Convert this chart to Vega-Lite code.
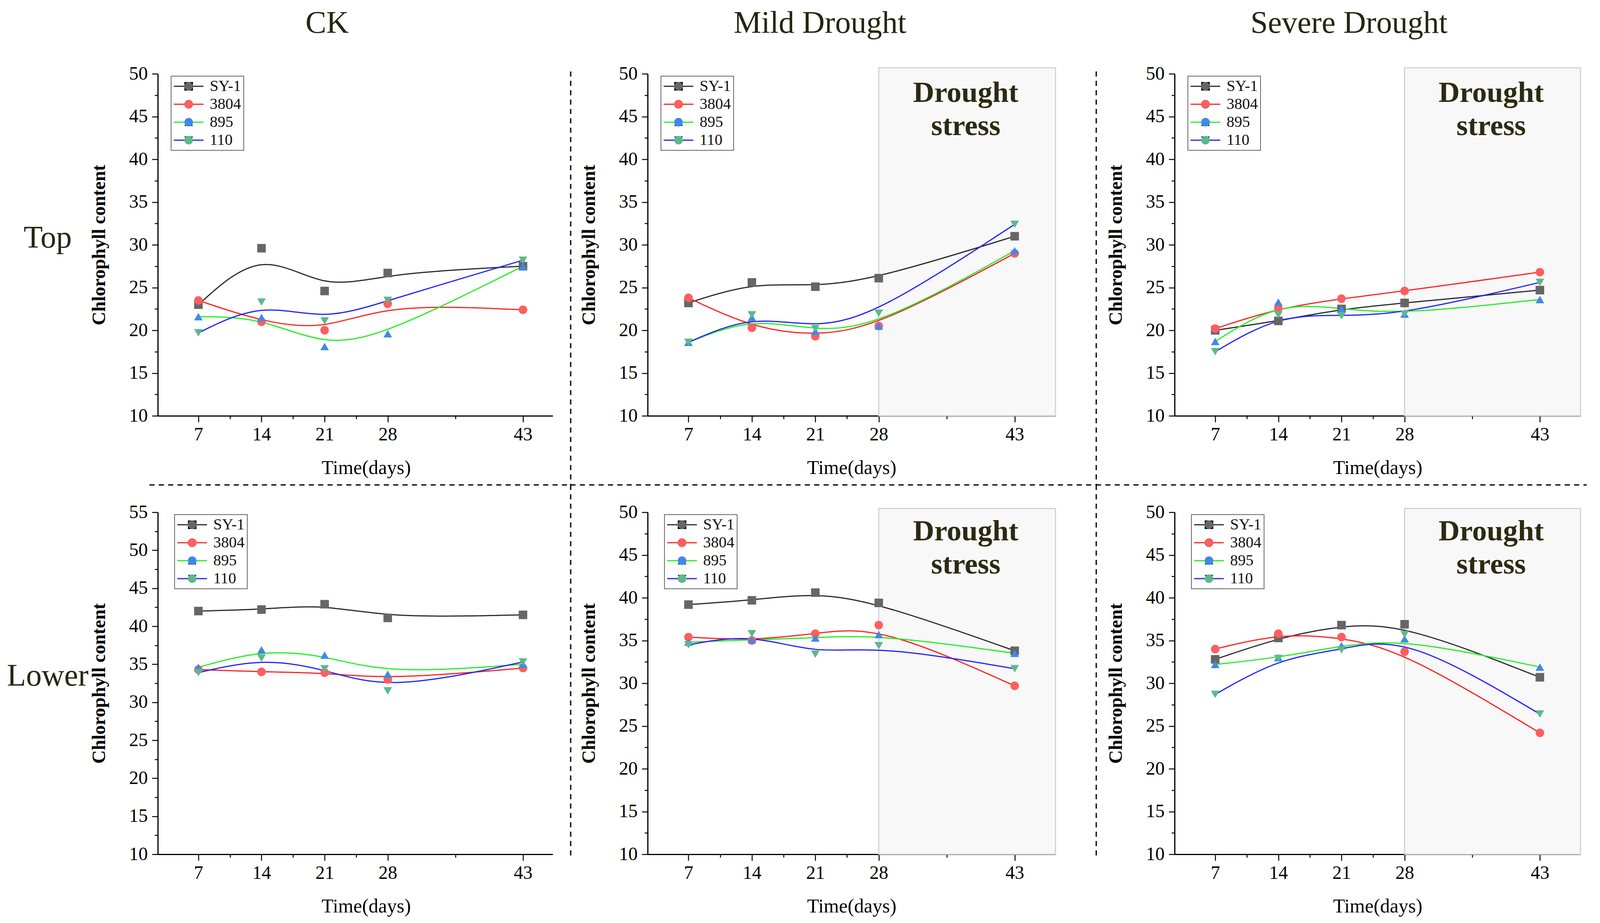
{
"$schema": "https://vega.github.io/schema/vega-lite/v6.json",
"background": "white",
"autosize": {"type": "pad"},
"padding": {"left": 17, "top": 20, "right": 5, "bottom": 5},
"datasets": {"chl": [
{"panel":"CK-Top","variety":"SY-1","day":7,"chl":23.0},{"panel":"CK-Top","variety":"SY-1","day":14,"chl":29.6},{"panel":"CK-Top","variety":"SY-1","day":21,"chl":24.6},{"panel":"CK-Top","variety":"SY-1","day":28,"chl":26.7},{"panel":"CK-Top","variety":"SY-1","day":43,"chl":27.5},
{"panel":"CK-Top","variety":"3804","day":7,"chl":23.5},{"panel":"CK-Top","variety":"3804","day":14,"chl":21.0},{"panel":"CK-Top","variety":"3804","day":21,"chl":20.0},{"panel":"CK-Top","variety":"3804","day":28,"chl":23.1},{"panel":"CK-Top","variety":"3804","day":43,"chl":22.4},
{"panel":"CK-Top","variety":"895","day":7,"chl":21.6},{"panel":"CK-Top","variety":"895","day":14,"chl":21.5},{"panel":"CK-Top","variety":"895","day":21,"chl":18.1},{"panel":"CK-Top","variety":"895","day":28,"chl":19.6},{"panel":"CK-Top","variety":"895","day":43,"chl":27.5},
{"panel":"CK-Top","variety":"110","day":7,"chl":19.7},{"panel":"CK-Top","variety":"110","day":14,"chl":23.3},{"panel":"CK-Top","variety":"110","day":21,"chl":21.1},{"panel":"CK-Top","variety":"110","day":28,"chl":23.5},{"panel":"CK-Top","variety":"110","day":43,"chl":28.2},
{"panel":"MD-Top","variety":"SY-1","day":7,"chl":23.2},{"panel":"MD-Top","variety":"SY-1","day":14,"chl":25.6},{"panel":"MD-Top","variety":"SY-1","day":21,"chl":25.1},{"panel":"MD-Top","variety":"SY-1","day":28,"chl":26.1},{"panel":"MD-Top","variety":"SY-1","day":43,"chl":31.0},
{"panel":"MD-Top","variety":"3804","day":7,"chl":23.8},{"panel":"MD-Top","variety":"3804","day":14,"chl":20.3},{"panel":"MD-Top","variety":"3804","day":21,"chl":19.3},{"panel":"MD-Top","variety":"3804","day":28,"chl":20.5},{"panel":"MD-Top","variety":"3804","day":43,"chl":29.0},
{"panel":"MD-Top","variety":"895","day":7,"chl":18.6},{"panel":"MD-Top","variety":"895","day":14,"chl":21.5},{"panel":"MD-Top","variety":"895","day":21,"chl":19.9},{"panel":"MD-Top","variety":"895","day":28,"chl":20.5},{"panel":"MD-Top","variety":"895","day":43,"chl":29.3},
{"panel":"MD-Top","variety":"110","day":7,"chl":18.6},{"panel":"MD-Top","variety":"110","day":14,"chl":21.8},{"panel":"MD-Top","variety":"110","day":21,"chl":20.2},{"panel":"MD-Top","variety":"110","day":28,"chl":22.0},{"panel":"MD-Top","variety":"110","day":43,"chl":32.4},
{"panel":"SD-Top","variety":"SY-1","day":7,"chl":20.0},{"panel":"SD-Top","variety":"SY-1","day":14,"chl":21.1},{"panel":"SD-Top","variety":"SY-1","day":21,"chl":22.5},{"panel":"SD-Top","variety":"SY-1","day":28,"chl":23.2},{"panel":"SD-Top","variety":"SY-1","day":43,"chl":24.7},
{"panel":"SD-Top","variety":"3804","day":7,"chl":20.2},{"panel":"SD-Top","variety":"3804","day":14,"chl":22.6},{"panel":"SD-Top","variety":"3804","day":21,"chl":23.7},{"panel":"SD-Top","variety":"3804","day":28,"chl":24.6},{"panel":"SD-Top","variety":"3804","day":43,"chl":26.8},
{"panel":"SD-Top","variety":"895","day":7,"chl":18.7},{"panel":"SD-Top","variety":"895","day":14,"chl":23.3},{"panel":"SD-Top","variety":"895","day":21,"chl":22.5},{"panel":"SD-Top","variety":"895","day":28,"chl":21.9},{"panel":"SD-Top","variety":"895","day":43,"chl":23.6},
{"panel":"SD-Top","variety":"110","day":7,"chl":17.5},{"panel":"SD-Top","variety":"110","day":14,"chl":21.8},{"panel":"SD-Top","variety":"110","day":21,"chl":21.7},{"panel":"SD-Top","variety":"110","day":28,"chl":21.9},{"panel":"SD-Top","variety":"110","day":43,"chl":25.6},
{"panel":"CK-Low","variety":"SY-1","day":7,"chl":42.0},{"panel":"CK-Low","variety":"SY-1","day":14,"chl":42.2},{"panel":"CK-Low","variety":"SY-1","day":21,"chl":42.9},{"panel":"CK-Low","variety":"SY-1","day":28,"chl":41.1},{"panel":"CK-Low","variety":"SY-1","day":43,"chl":41.5},
{"panel":"CK-Low","variety":"3804","day":7,"chl":34.3},{"panel":"CK-Low","variety":"3804","day":14,"chl":34.0},{"panel":"CK-Low","variety":"3804","day":21,"chl":33.9},{"panel":"CK-Low","variety":"3804","day":28,"chl":33.0},{"panel":"CK-Low","variety":"3804","day":43,"chl":34.5},
{"panel":"CK-Low","variety":"895","day":7,"chl":34.6},{"panel":"CK-Low","variety":"895","day":14,"chl":36.9},{"panel":"CK-Low","variety":"895","day":21,"chl":36.2},{"panel":"CK-Low","variety":"895","day":28,"chl":33.7},{"panel":"CK-Low","variety":"895","day":43,"chl":35.0},
{"panel":"CK-Low","variety":"110","day":7,"chl":33.9},{"panel":"CK-Low","variety":"110","day":14,"chl":35.8},{"panel":"CK-Low","variety":"110","day":21,"chl":34.4},{"panel":"CK-Low","variety":"110","day":28,"chl":31.5},{"panel":"CK-Low","variety":"110","day":43,"chl":35.3},
{"panel":"MD-Low","variety":"SY-1","day":7,"chl":39.2},{"panel":"MD-Low","variety":"SY-1","day":14,"chl":39.7},{"panel":"MD-Low","variety":"SY-1","day":21,"chl":40.6},{"panel":"MD-Low","variety":"SY-1","day":28,"chl":39.4},{"panel":"MD-Low","variety":"SY-1","day":43,"chl":33.8},
{"panel":"MD-Low","variety":"3804","day":7,"chl":35.4},{"panel":"MD-Low","variety":"3804","day":14,"chl":35.0},{"panel":"MD-Low","variety":"3804","day":21,"chl":35.8},{"panel":"MD-Low","variety":"3804","day":28,"chl":36.8},{"panel":"MD-Low","variety":"3804","day":43,"chl":29.7},
{"panel":"MD-Low","variety":"895","day":7,"chl":34.8},{"panel":"MD-Low","variety":"895","day":14,"chl":35.1},{"panel":"MD-Low","variety":"895","day":21,"chl":35.3},{"panel":"MD-Low","variety":"895","day":28,"chl":35.7},{"panel":"MD-Low","variety":"895","day":43,"chl":33.5},
{"panel":"MD-Low","variety":"110","day":7,"chl":34.5},{"panel":"MD-Low","variety":"110","day":14,"chl":35.8},{"panel":"MD-Low","variety":"110","day":21,"chl":33.4},{"panel":"MD-Low","variety":"110","day":28,"chl":34.4},{"panel":"MD-Low","variety":"110","day":43,"chl":31.7},
{"panel":"SD-Low","variety":"SY-1","day":7,"chl":32.8},{"panel":"SD-Low","variety":"SY-1","day":14,"chl":35.3},{"panel":"SD-Low","variety":"SY-1","day":21,"chl":36.8},{"panel":"SD-Low","variety":"SY-1","day":28,"chl":36.9},{"panel":"SD-Low","variety":"SY-1","day":43,"chl":30.7},
{"panel":"SD-Low","variety":"3804","day":7,"chl":34.0},{"panel":"SD-Low","variety":"3804","day":14,"chl":35.8},{"panel":"SD-Low","variety":"3804","day":21,"chl":35.4},{"panel":"SD-Low","variety":"3804","day":28,"chl":33.7},{"panel":"SD-Low","variety":"3804","day":43,"chl":24.2},
{"panel":"SD-Low","variety":"895","day":7,"chl":32.2},{"panel":"SD-Low","variety":"895","day":14,"chl":33.0},{"panel":"SD-Low","variety":"895","day":21,"chl":34.4},{"panel":"SD-Low","variety":"895","day":28,"chl":35.2},{"panel":"SD-Low","variety":"895","day":43,"chl":31.9},
{"panel":"SD-Low","variety":"110","day":7,"chl":28.7},{"panel":"SD-Low","variety":"110","day":14,"chl":32.9},{"panel":"SD-Low","variety":"110","day":21,"chl":33.9},{"panel":"SD-Low","variety":"110","day":28,"chl":35.7},{"panel":"SD-Low","variety":"110","day":43,"chl":26.4}
]},
"columns": 3,
"spacing": {"row": 247, "column": 243},
"bounds": "flush",
"resolve": {"scale": {"stroke": "independent", "fill": "independent", "shape": "independent"}, "legend": {"stroke": "independent", "fill": "independent", "shape": "independent"}},
"concat": [
{
 "width": 1011, "height": 876,
 "title": {"text": "CK", "dx": -72},
 "layer": [
  {"data": {"values": [{}]}, "mark": {"type": "rule", "strokeDash": [13, 11], "strokeWidth": 3.5, "color": "#111111"},
   "encoding": {"x": {"datum": 48.29}, "y": {"datum": 50.27}, "y2": {"datum": 1.91}}},
  {"data": {"values": [{}]}, "mark": {"type": "text", "text": "Top", "font": "Liberation Serif", "fontSize": 80, "color": "#262611", "align": "center", "baseline": "alphabetic"},
   "encoding": {"x": {"datum": -9.71}, "y": {"datum": 29.7}}},
  {"data": {"name": "chl"}, "transform": [{"filter": "datum.panel === 'CK-Top'"}],
   "mark": {"type": "line", "interpolate": "basis", "strokeWidth": 3},
   "encoding": {
    "x": {"field": "day", "type": "quantitative", "scale": {"domain": [2.5, 46.3], "nice": false, "zero": false},
          "axis": {"title": "Time(days)", "titleX": 533, "values": [7,10.5,14,17.5,21,24.5,28,35.5,43], "labelExpr": "indexof([7,14,21,28,43], datum.value) >= 0 ? datum.label : ''", "tickSize": {"condition": {"test": "indexof([7,14,21,28,43], datum.value) >= 0", "value": 16}, "value": 8}}},
    "y": {"field": "chl", "type": "quantitative", "scale": {"domain": [10, 50], "nice": false, "zero": false},
          "axis": {"title": "Chlorophyll content", "values": [10,12.5,15,17.5,20,22.5,25,27.5,30,32.5,35,37.5,40,42.5,45,47.5,50], "labelExpr": "datum.value % 5 === 0 ? datum.label : ''", "tickSize": {"condition": {"test": "datum.value % 5 === 0", "value": 15}, "value": 8}}},
    "stroke": {"field": "variety", "type": "nominal", "scale": {"domain": ["SY-1","3804","895","110"], "range": ["#2b2b2b","#ff2222","#22ee22","#2222ff"]},
     "legend": {"orient": "none", "legendX": 34, "legendY": 6, "title": null, "symbolType": "M-2.68,0H-0.62M0.62,0H2.68", "symbolSize": 803, "symbolStrokeWidth": 3, "symbolOffset": 19, "labelOffset": 34, "padding": 6, "rowPadding": 6, "strokeColor": "#666666", "encode": {"legend": {"update": {"strokeWidth": {"value": 2}}}}}}}},
  {"data": {"name": "chl"}, "transform": [{"filter": "datum.panel === 'CK-Top'"}],
   "mark": {"type": "point", "filled": true, "size": 480, "opacity": 1, "strokeWidth": 0},
   "encoding": {
    "x": {"field": "day", "type": "quantitative", "scale": {"domain": [2.5, 46.3], "nice": false, "zero": false}},
    "y": {"field": "chl", "type": "quantitative", "scale": {"domain": [10, 50], "nice": false, "zero": false}},
    "fill": {"field": "variety", "type": "nominal", "sort": ["SY-1","3804","895","110"], "scale": {"range": ["#666666","#ff5e5e","#3f88ea","#5cb98a"]},
       "legend": {"orient": "none", "legendX": 34, "legendY": 6, "title": null, "symbolSize": 480, "symbolStrokeWidth": 0, "symbolOffset": 19, "labelOpacity": 0, "labelOffset": 34, "padding": 6, "rowPadding": 6}},
    "shape": {"field": "variety", "type": "nominal", "sort": ["SY-1","3804","895","110"], "scale": {"range": ["square","circle","triangle-up","triangle-down"]},
       "legend": {"orient": "none", "legendX": 34, "legendY": 6, "title": null, "symbolSize": 480, "symbolStrokeWidth": 0, "symbolOffset": 19, "labelOpacity": 0, "labelOffset": 34, "padding": 6, "rowPadding": 6}}}}
 ]
},
{
 "width": 1106, "height": 876,
 "title": {"text": "Mild Drought", "dx": -112},
 "layer": [
  {"data": {"values": [{}]}, "mark": {"type": "rect", "fill": "#f8f8f8", "stroke": "#cfd3d6", "strokeWidth": 3},
   "encoding": {"x": {"datum": 28}, "x2": {"datum": 47.5}, "y": {"datum": 10}, "y2": {"datum": 50.7}}},
  {"data": {"values": [{}]}, "mark": {"type": "text", "text": ["Drought", "stress"], "font": "Liberation Serif", "fontSize": 75, "fontWeight": "bold", "color": "#2b2b12", "align": "center", "baseline": "alphabetic", "lineHeight": 85},
   "encoding": {"x": {"datum": 37.6}, "y": {"datum": 46.7}}},
  {"data": {"values": [{}]}, "mark": {"type": "rule", "strokeDash": [13, 11], "strokeWidth": 3.5, "color": "#111111"},
   "encoding": {"x": {"datum": 52.0}, "y": {"datum": 50.27}, "y2": {"datum": 1.91}}},
  {"data": {"name": "chl"}, "transform": [{"filter": "datum.panel === 'MD-Top'"}],
   "mark": {"type": "line", "interpolate": "basis", "strokeWidth": 3},
   "encoding": {
    "x": {"field": "day", "type": "quantitative", "scale": {"domain": [2.5, 47.5], "nice": false, "zero": false, "rangeMax": 1044},
          "axis": {"title": "Time(days)", "values": [7,10.5,14,17.5,21,24.5,28,35.5,43], "labelExpr": "indexof([7,14,21,28,43], datum.value) >= 0 ? datum.label : ''", "tickSize": {"condition": {"test": "indexof([7,14,21,28,43], datum.value) >= 0", "value": 16}, "value": 8}}},
    "y": {"field": "chl", "type": "quantitative", "scale": {"domain": [10, 50], "nice": false, "zero": false},
          "axis": {"title": "Chlorophyll content", "values": [10,12.5,15,17.5,20,22.5,25,27.5,30,32.5,35,37.5,40,42.5,45,47.5,50], "labelExpr": "datum.value % 5 === 0 ? datum.label : ''", "tickSize": {"condition": {"test": "datum.value % 5 === 0", "value": 15}, "value": 8}}},
    "stroke": {"field": "variety", "type": "nominal", "scale": {"domain": ["SY-1","3804","895","110"], "range": ["#2b2b2b","#ff2222","#22ee22","#2222ff"]},
     "legend": {"orient": "none", "legendX": 34, "legendY": 6, "title": null, "symbolType": "M-2.68,0H-0.62M0.62,0H2.68", "symbolSize": 803, "symbolStrokeWidth": 3, "symbolOffset": 19, "labelOffset": 34, "padding": 6, "rowPadding": 6, "strokeColor": "#666666", "encode": {"legend": {"update": {"strokeWidth": {"value": 2}}}}}}}},
  {"data": {"name": "chl"}, "transform": [{"filter": "datum.panel === 'MD-Top'"}],
   "mark": {"type": "point", "filled": true, "size": 480, "opacity": 1, "strokeWidth": 0},
   "encoding": {
    "x": {"field": "day", "type": "quantitative", "scale": {"domain": [2.5, 47.5], "nice": false, "zero": false, "rangeMax": 1044}},
    "y": {"field": "chl", "type": "quantitative", "scale": {"domain": [10, 50], "nice": false, "zero": false}},
    "fill": {"field": "variety", "type": "nominal", "sort": ["SY-1","3804","895","110"], "scale": {"range": ["#666666","#ff5e5e","#3f88ea","#5cb98a"]},
       "legend": {"orient": "none", "legendX": 34, "legendY": 6, "title": null, "symbolSize": 480, "symbolStrokeWidth": 0, "symbolOffset": 19, "labelOpacity": 0, "labelOffset": 34, "padding": 6, "rowPadding": 6}},
    "shape": {"field": "variety", "type": "nominal", "sort": ["SY-1","3804","895","110"], "scale": {"range": ["square","circle","triangle-up","triangle-down"]},
       "legend": {"orient": "none", "legendX": 34, "legendY": 6, "title": null, "symbolSize": 480, "symbolStrokeWidth": 0, "symbolOffset": 19, "labelOpacity": 0, "labelOffset": 34, "padding": 6, "rowPadding": 6}}}}
 ]
},
{
 "width": 1039, "height": 876,
 "title": {"text": "Severe Drought", "dx": -73},
 "layer": [
  {"data": {"values": [{}]}, "mark": {"type": "rect", "fill": "#f8f8f8", "stroke": "#cfd3d6", "strokeWidth": 3},
   "encoding": {"x": {"datum": 28}, "x2": {"datum": 47.5}, "y": {"datum": 10}, "y2": {"datum": 50.7}}},
  {"data": {"values": [{}]}, "mark": {"type": "text", "text": ["Drought", "stress"], "font": "Liberation Serif", "fontSize": 75, "fontWeight": "bold", "color": "#2b2b12", "align": "center", "baseline": "alphabetic", "lineHeight": 85},
   "encoding": {"x": {"datum": 37.6}, "y": {"datum": 46.7}}},
  {"data": {"name": "chl"}, "transform": [{"filter": "datum.panel === 'SD-Top'"}],
   "mark": {"type": "line", "interpolate": "basis", "strokeWidth": 3},
   "encoding": {
    "x": {"field": "day", "type": "quantitative", "scale": {"domain": [2.5, 47.5], "nice": false, "zero": false},
          "axis": {"title": "Time(days)", "values": [7,10.5,14,17.5,21,24.5,28,35.5,43], "labelExpr": "indexof([7,14,21,28,43], datum.value) >= 0 ? datum.label : ''", "tickSize": {"condition": {"test": "indexof([7,14,21,28,43], datum.value) >= 0", "value": 16}, "value": 8}}},
    "y": {"field": "chl", "type": "quantitative", "scale": {"domain": [10, 50], "nice": false, "zero": false},
          "axis": {"title": "Chlorophyll content", "values": [10,12.5,15,17.5,20,22.5,25,27.5,30,32.5,35,37.5,40,42.5,45,47.5,50], "labelExpr": "datum.value % 5 === 0 ? datum.label : ''", "tickSize": {"condition": {"test": "datum.value % 5 === 0", "value": 15}, "value": 8}}},
    "stroke": {"field": "variety", "type": "nominal", "scale": {"domain": ["SY-1","3804","895","110"], "range": ["#2b2b2b","#ff2222","#22ee22","#2222ff"]},
     "legend": {"orient": "none", "legendX": 34, "legendY": 6, "title": null, "symbolType": "M-2.68,0H-0.62M0.62,0H2.68", "symbolSize": 803, "symbolStrokeWidth": 3, "symbolOffset": 19, "labelOffset": 34, "padding": 6, "rowPadding": 6, "strokeColor": "#666666", "encode": {"legend": {"update": {"strokeWidth": {"value": 2}}}}}}}},
  {"data": {"name": "chl"}, "transform": [{"filter": "datum.panel === 'SD-Top'"}],
   "mark": {"type": "point", "filled": true, "size": 480, "opacity": 1, "strokeWidth": 0},
   "encoding": {
    "x": {"field": "day", "type": "quantitative", "scale": {"domain": [2.5, 47.5], "nice": false, "zero": false}},
    "y": {"field": "chl", "type": "quantitative", "scale": {"domain": [10, 50], "nice": false, "zero": false}},
    "fill": {"field": "variety", "type": "nominal", "sort": ["SY-1","3804","895","110"], "scale": {"range": ["#666666","#ff5e5e","#3f88ea","#5cb98a"]},
       "legend": {"orient": "none", "legendX": 34, "legendY": 6, "title": null, "symbolSize": 480, "symbolStrokeWidth": 0, "symbolOffset": 19, "labelOpacity": 0, "labelOffset": 34, "padding": 6, "rowPadding": 6}},
    "shape": {"field": "variety", "type": "nominal", "sort": ["SY-1","3804","895","110"], "scale": {"range": ["square","circle","triangle-up","triangle-down"]},
       "legend": {"orient": "none", "legendX": 34, "legendY": 6, "title": null, "symbolSize": 480, "symbolStrokeWidth": 0, "symbolOffset": 19, "labelOpacity": 0, "labelOffset": 34, "padding": 6, "rowPadding": 6}}}}
 ]
},
{
 "width": 1011, "height": 876,
 "layer": [
  {"data": {"values": [{}]}, "mark": {"type": "rule", "strokeDash": [13, 11], "strokeWidth": 3.5, "color": "#111111"},
   "encoding": {"x": {"datum": 48.29}, "y": {"datum": 58.6}, "y2": {"datum": 9.74}}},
  {"data": {"values": [{}]}, "mark": {"type": "rule", "strokeDash": [13, 11], "strokeWidth": 3.5, "color": "#111111"},
   "encoding": {"x": {"datum": 1.57}, "x2": {"datum": 48.29}, "y": {"datum": 58.6}}},
  {"data": {"values": [{}]}, "mark": {"type": "text", "text": "Lower", "font": "Liberation Serif", "fontSize": 80, "color": "#262611", "align": "center", "baseline": "alphabetic"},
   "encoding": {"x": {"datum": -9.71}, "y": {"datum": 32.2}}},
  {"data": {"name": "chl"}, "transform": [{"filter": "datum.panel === 'CK-Low'"}],
   "mark": {"type": "line", "interpolate": "basis", "strokeWidth": 3},
   "encoding": {
    "x": {"field": "day", "type": "quantitative", "scale": {"domain": [2.5, 46.3], "nice": false, "zero": false},
          "axis": {"title": "Time(days)", "titleX": 533, "values": [7,10.5,14,17.5,21,24.5,28,35.5,43], "labelExpr": "indexof([7,14,21,28,43], datum.value) >= 0 ? datum.label : ''", "tickSize": {"condition": {"test": "indexof([7,14,21,28,43], datum.value) >= 0", "value": 16}, "value": 8}}},
    "y": {"field": "chl", "type": "quantitative", "scale": {"domain": [10, 55], "nice": false, "zero": false},
          "axis": {"title": "Chlorophyll content", "values": [10,12.5,15,17.5,20,22.5,25,27.5,30,32.5,35,37.5,40,42.5,45,47.5,50,52.5,55], "labelExpr": "datum.value % 5 === 0 ? datum.label : ''", "tickSize": {"condition": {"test": "datum.value % 5 === 0", "value": 15}, "value": 8}}},
    "stroke": {"field": "variety", "type": "nominal", "scale": {"domain": ["SY-1","3804","895","110"], "range": ["#2b2b2b","#ff2222","#22ee22","#2222ff"]},
     "legend": {"orient": "none", "legendX": 43, "legendY": 6, "title": null, "symbolType": "M-2.68,0H-0.62M0.62,0H2.68", "symbolSize": 803, "symbolStrokeWidth": 3, "symbolOffset": 19, "labelOffset": 34, "padding": 6, "rowPadding": 6, "strokeColor": "#666666", "encode": {"legend": {"update": {"strokeWidth": {"value": 2}}}}}}}},
  {"data": {"name": "chl"}, "transform": [{"filter": "datum.panel === 'CK-Low'"}],
   "mark": {"type": "point", "filled": true, "size": 480, "opacity": 1, "strokeWidth": 0},
   "encoding": {
    "x": {"field": "day", "type": "quantitative", "scale": {"domain": [2.5, 46.3], "nice": false, "zero": false}},
    "y": {"field": "chl", "type": "quantitative", "scale": {"domain": [10, 55], "nice": false, "zero": false}},
    "fill": {"field": "variety", "type": "nominal", "sort": ["SY-1","3804","895","110"], "scale": {"range": ["#666666","#ff5e5e","#3f88ea","#5cb98a"]},
       "legend": {"orient": "none", "legendX": 43, "legendY": 6, "title": null, "symbolSize": 480, "symbolStrokeWidth": 0, "symbolOffset": 19, "labelOpacity": 0, "labelOffset": 34, "padding": 6, "rowPadding": 6}},
    "shape": {"field": "variety", "type": "nominal", "sort": ["SY-1","3804","895","110"], "scale": {"range": ["square","circle","triangle-up","triangle-down"]},
       "legend": {"orient": "none", "legendX": 43, "legendY": 6, "title": null, "symbolSize": 480, "symbolStrokeWidth": 0, "symbolOffset": 19, "labelOpacity": 0, "labelOffset": 34, "padding": 6, "rowPadding": 6}}}}
 ]
},
{
 "width": 1106, "height": 876,
 "layer": [
  {"data": {"values": [{}]}, "mark": {"type": "rect", "fill": "#f8f8f8", "stroke": "#cfd3d6", "strokeWidth": 3},
   "encoding": {"x": {"datum": 28}, "x2": {"datum": 47.5}, "y": {"datum": 10}, "y2": {"datum": 50.45}}},
  {"data": {"values": [{}]}, "mark": {"type": "text", "text": ["Drought", "stress"], "font": "Liberation Serif", "fontSize": 75, "fontWeight": "bold", "color": "#2b2b12", "align": "center", "baseline": "alphabetic", "lineHeight": 85},
   "encoding": {"x": {"datum": 37.6}, "y": {"datum": 46.7}}},
  {"data": {"values": [{}]}, "mark": {"type": "rule", "strokeDash": [13, 11], "strokeWidth": 3.5, "color": "#111111"},
   "encoding": {"x": {"datum": 52.0}, "y": {"datum": 53.2}, "y2": {"datum": 9.77}}},
  {"data": {"values": [{}]}, "mark": {"type": "rule", "strokeDash": [13, 11], "strokeWidth": 3.5, "color": "#111111"},
   "encoding": {"x": {"datum": -6.02}, "x2": {"datum": 52.0}, "y": {"datum": 53.2}}},
  {"data": {"name": "chl"}, "transform": [{"filter": "datum.panel === 'MD-Low'"}],
   "mark": {"type": "line", "interpolate": "basis", "strokeWidth": 3},
   "encoding": {
    "x": {"field": "day", "type": "quantitative", "scale": {"domain": [2.5, 47.5], "nice": false, "zero": false, "rangeMax": 1044},
          "axis": {"title": "Time(days)", "values": [7,10.5,14,17.5,21,24.5,28,35.5,43], "labelExpr": "indexof([7,14,21,28,43], datum.value) >= 0 ? datum.label : ''", "tickSize": {"condition": {"test": "indexof([7,14,21,28,43], datum.value) >= 0", "value": 16}, "value": 8}}},
    "y": {"field": "chl", "type": "quantitative", "scale": {"domain": [10, 50], "nice": false, "zero": false},
          "axis": {"title": "Chlorophyll content", "values": [10,12.5,15,17.5,20,22.5,25,27.5,30,32.5,35,37.5,40,42.5,45,47.5,50], "labelExpr": "datum.value % 5 === 0 ? datum.label : ''", "tickSize": {"condition": {"test": "datum.value % 5 === 0", "value": 15}, "value": 8}}},
    "stroke": {"field": "variety", "type": "nominal", "scale": {"domain": ["SY-1","3804","895","110"], "range": ["#2b2b2b","#ff2222","#22ee22","#2222ff"]},
     "legend": {"orient": "none", "legendX": 43, "legendY": 6, "title": null, "symbolType": "M-2.68,0H-0.62M0.62,0H2.68", "symbolSize": 803, "symbolStrokeWidth": 3, "symbolOffset": 19, "labelOffset": 34, "padding": 6, "rowPadding": 6, "strokeColor": "#666666", "encode": {"legend": {"update": {"strokeWidth": {"value": 2}}}}}}}},
  {"data": {"name": "chl"}, "transform": [{"filter": "datum.panel === 'MD-Low'"}],
   "mark": {"type": "point", "filled": true, "size": 480, "opacity": 1, "strokeWidth": 0},
   "encoding": {
    "x": {"field": "day", "type": "quantitative", "scale": {"domain": [2.5, 47.5], "nice": false, "zero": false, "rangeMax": 1044}},
    "y": {"field": "chl", "type": "quantitative", "scale": {"domain": [10, 50], "nice": false, "zero": false}},
    "fill": {"field": "variety", "type": "nominal", "sort": ["SY-1","3804","895","110"], "scale": {"range": ["#666666","#ff5e5e","#3f88ea","#5cb98a"]},
       "legend": {"orient": "none", "legendX": 43, "legendY": 6, "title": null, "symbolSize": 480, "symbolStrokeWidth": 0, "symbolOffset": 19, "labelOpacity": 0, "labelOffset": 34, "padding": 6, "rowPadding": 6}},
    "shape": {"field": "variety", "type": "nominal", "sort": ["SY-1","3804","895","110"], "scale": {"range": ["square","circle","triangle-up","triangle-down"]},
       "legend": {"orient": "none", "legendX": 43, "legendY": 6, "title": null, "symbolSize": 480, "symbolStrokeWidth": 0, "symbolOffset": 19, "labelOpacity": 0, "labelOffset": 34, "padding": 6, "rowPadding": 6}}}}
 ]
},
{
 "width": 1039, "height": 876,
 "layer": [
  {"data": {"values": [{}]}, "mark": {"type": "rect", "fill": "#f8f8f8", "stroke": "#cfd3d6", "strokeWidth": 3},
   "encoding": {"x": {"datum": 28}, "x2": {"datum": 47.5}, "y": {"datum": 10}, "y2": {"datum": 50.45}}},
  {"data": {"values": [{}]}, "mark": {"type": "text", "text": ["Drought", "stress"], "font": "Liberation Serif", "fontSize": 75, "fontWeight": "bold", "color": "#2b2b12", "align": "center", "baseline": "alphabetic", "lineHeight": 85},
   "encoding": {"x": {"datum": 37.6}, "y": {"datum": 46.7}}},
  {"data": {"values": [{}]}, "mark": {"type": "rule", "strokeDash": [13, 11], "strokeWidth": 3.5, "color": "#111111"},
   "encoding": {"x": {"datum": -6.22}, "x2": {"datum": 48.2}, "y": {"datum": 53.2}}},
  {"data": {"name": "chl"}, "transform": [{"filter": "datum.panel === 'SD-Low'"}],
   "mark": {"type": "line", "interpolate": "basis", "strokeWidth": 3},
   "encoding": {
    "x": {"field": "day", "type": "quantitative", "scale": {"domain": [2.5, 47.5], "nice": false, "zero": false},
          "axis": {"title": "Time(days)", "values": [7,10.5,14,17.5,21,24.5,28,35.5,43], "labelExpr": "indexof([7,14,21,28,43], datum.value) >= 0 ? datum.label : ''", "tickSize": {"condition": {"test": "indexof([7,14,21,28,43], datum.value) >= 0", "value": 16}, "value": 8}}},
    "y": {"field": "chl", "type": "quantitative", "scale": {"domain": [10, 50], "nice": false, "zero": false},
          "axis": {"title": "Chlorophyll content", "values": [10,12.5,15,17.5,20,22.5,25,27.5,30,32.5,35,37.5,40,42.5,45,47.5,50], "labelExpr": "datum.value % 5 === 0 ? datum.label : ''", "tickSize": {"condition": {"test": "datum.value % 5 === 0", "value": 15}, "value": 8}}},
    "stroke": {"field": "variety", "type": "nominal", "scale": {"domain": ["SY-1","3804","895","110"], "range": ["#2b2b2b","#ff2222","#22ee22","#2222ff"]},
     "legend": {"orient": "none", "legendX": 43, "legendY": 6, "title": null, "symbolType": "M-2.68,0H-0.62M0.62,0H2.68", "symbolSize": 803, "symbolStrokeWidth": 3, "symbolOffset": 19, "labelOffset": 34, "padding": 6, "rowPadding": 6, "strokeColor": "#666666", "encode": {"legend": {"update": {"strokeWidth": {"value": 2}}}}}}}},
  {"data": {"name": "chl"}, "transform": [{"filter": "datum.panel === 'SD-Low'"}],
   "mark": {"type": "point", "filled": true, "size": 480, "opacity": 1, "strokeWidth": 0},
   "encoding": {
    "x": {"field": "day", "type": "quantitative", "scale": {"domain": [2.5, 47.5], "nice": false, "zero": false}},
    "y": {"field": "chl", "type": "quantitative", "scale": {"domain": [10, 50], "nice": false, "zero": false}},
    "fill": {"field": "variety", "type": "nominal", "sort": ["SY-1","3804","895","110"], "scale": {"range": ["#666666","#ff5e5e","#3f88ea","#5cb98a"]},
       "legend": {"orient": "none", "legendX": 43, "legendY": 6, "title": null, "symbolSize": 480, "symbolStrokeWidth": 0, "symbolOffset": 19, "labelOpacity": 0, "labelOffset": 34, "padding": 6, "rowPadding": 6}},
    "shape": {"field": "variety", "type": "nominal", "sort": ["SY-1","3804","895","110"], "scale": {"range": ["square","circle","triangle-up","triangle-down"]},
       "legend": {"orient": "none", "legendX": 43, "legendY": 6, "title": null, "symbolSize": 480, "symbolStrokeWidth": 0, "symbolOffset": 19, "labelOpacity": 0, "labelOffset": 34, "padding": 6, "rowPadding": 6}}}}
 ]
}
],
"config": {
 "view": {"stroke": null},
 "axis": {"zindex": 1, "domainColor": "#000000", "domainWidth": 3, "tickColor": "#000000", "tickWidth": 2.5, "labelFont": "Liberation Serif", "labelFontSize": 48, "labelColor": "#000000", "titleColor": "#000000", "grid": false, "labelOverlap": false, "labelFlush": false, "labelBound": false},
 "axisX": {"labelPadding": 8, "titleFont": "Liberation Serif", "titleFontSize": 50, "titleFontWeight": "normal", "titlePadding": 36},
 "axisY": {"labelPadding": 11, "titleFont": "Liberation Serif", "titleFontSize": 48, "titleFontWeight": "bold", "titlePadding": 52},
 "title": {"font": "Liberation Serif", "fontSize": 80, "fontWeight": "normal", "color": "#262611", "anchor": "middle", "frame": "group", "baseline": "alphabetic", "offset": 64},
 "legend": {"labelFont": "Liberation Serif", "labelFontSize": 40, "labelColor": "#111111"}
}
}
